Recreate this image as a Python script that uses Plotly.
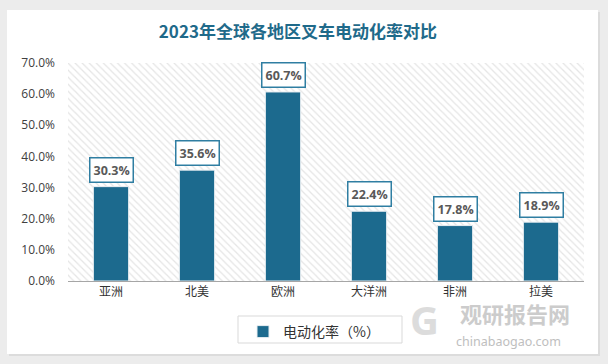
import plotly.graph_objects as go

regions = ["亚洲", "北美", "欧洲", "大洋洲", "非洲", "拉美"]
rates = [0.303, 0.356, 0.607, 0.224, 0.178, 0.189]
tick_vals = [0, 0.1, 0.2, 0.3, 0.4, 0.5, 0.6, 0.7]
series_name = "电动化率（%）"
title_text = "2023年全球各地区叉车电动化率对比"

BAR = "#1c6a8e"
W, H = 608, 364
ML, MR, MT, MB = 68, 24, 63, 83
pw, ph = W - ML - MR, H - MT - MB

def px_x(x):
    return (x - ML) / pw

def px_y(y):
    return (H - MB - y) / ph

fig = go.Figure()

# hatched plot background on base (hidden) axes
fig.add_trace(go.Bar(
    x=[0.5], y=[1], width=[1], xaxis="x", yaxis="y",
    marker=dict(color="white", line=dict(width=0),
                pattern=dict(shape="\\", fgcolor="#cccccc", bgcolor="white", size=5, solidity=0.25)),
    showlegend=False, hoverinfo="skip",
))

fig.add_trace(go.Bar(
    x=regions, y=rates, name=series_name, xaxis="x2", yaxis="y2",
    marker=dict(color=BAR, line=dict(color="#e8eef2", width=1)),
    width=0.41,
))

for r, v in zip(regions, rates):
    fig.add_annotation(
        x=r, y=v, xref="x2", yref="y2", text=f"<b>{v*100:.1f}%</b>",
        showarrow=False, yanchor="bottom", yshift=4,
        font=dict(family="Open Sans, Noto Sans", size=12.5, color="#595959"),
        bgcolor="white", bordercolor="#2f7ea2", borderwidth=1.5, borderpad=3,
    )

# card
fig.add_shape(type="rect", xref="paper", yref="paper",
              x0=px_x(9), x1=px_x(600), y0=px_y(356), y1=px_y(12),
              fillcolor="#dcdcdc", line=dict(width=0), layer="below")
fig.add_shape(type="rect", xref="paper", yref="paper",
              x0=px_x(7), x1=px_x(598), y0=px_y(354), y1=px_y(10),
              fillcolor="white", line=dict(width=0), layer="below")
# legend box
fig.add_shape(type="rect", xref="paper", yref="paper",
              x0=px_x(238), x1=px_x(402), y0=px_y(343), y1=px_y(316),
              fillcolor="white", line=dict(color="#d9d9d9", width=1), layer="below")

# watermark
fig.add_annotation(xref="paper", yref="paper", x=px_x(515), y=px_y(313), xanchor="center", yanchor="middle",
                   text="<b>观研报告网</b>", showarrow=False,
                   font=dict(family="Noto Sans CJK SC", size=22, color="#c4c4c4"), opacity=0.85)
fig.add_annotation(xref="paper", yref="paper", x=px_x(508), y=px_y(341), xanchor="center", yanchor="middle",
                   text="chinabaogao.com", showarrow=False,
                   font=dict(family="Noto Sans", size=12.5, color="#b4b4b4"), opacity=0.85)
fig.add_annotation(xref="paper", yref="paper", x=px_x(424), y=px_y(319), xanchor="center", yanchor="middle",
                   text="<b>G</b>", showarrow=False,
                   font=dict(family="Noto Sans", size=40, color="#d4d4d4"), opacity=0.8)

fig.update_layout(
    width=W, height=H,
    margin=dict(l=ML, r=MR, t=MT, b=MB),
    paper_bgcolor="#ececec", plot_bgcolor="white",
    title=dict(text=f"<b>{title_text}</b>", x=0.49, xanchor="center", y=1 - 32 / H, yanchor="middle",
               font=dict(family="Noto Sans CJK SC", size=17, color="#1f6a8a")),
    xaxis=dict(range=[0, 1], visible=False, fixedrange=True),
    yaxis=dict(range=[0, 1], visible=False, fixedrange=True),
    xaxis2=dict(overlaying="x", showgrid=False, showline=True, linecolor="#a6a6a6", linewidth=1,
                ticks="", tickfont=dict(family="Noto Sans CJK SC", size=12, color="#333333")),
    yaxis2=dict(overlaying="y", range=[0, 0.7], tickvals=tick_vals, tickformat=".1%",
                showgrid=False, zeroline=False, showline=False, ticks="", ticklabelstandoff=12,
                tickfont=dict(family="Open Sans, Noto Sans", size=12, color="#404040")),
    legend=dict(orientation="h", x=px_x(243), xanchor="left", y=px_y(316), yanchor="top",
                bgcolor="rgba(0,0,0,0)", borderwidth=0,
                font=dict(family="Noto Sans CJK SC", size=14, color="#333333"),
                itemwidth=30),
    bargap=0.59,
)

fig.write_html("out.html", config={"displayModeBar": False},
               post_script="document.body.style.margin='0';")
